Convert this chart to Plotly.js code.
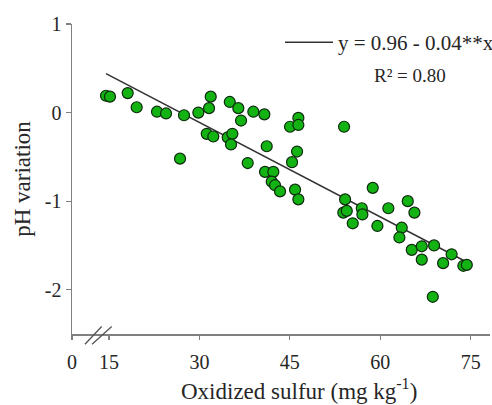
<!DOCTYPE html>
<html>
<head>
<meta charset="utf-8">
<script src="https://cdn.plot.ly/plotly-3.0.1.min.js"></script>
<style>
  html, body { margin: 0; padding: 0; background: #ffffff; }
  #chart { width: 492px; height: 405px; }
</style>
</head>
<body>
<div id="chart"></div>
<script>
// Oxidized sulfur (mg kg-1) for each sample
var sulfur = [14.50, 15.16, 18.10, 19.59, 22.96, 24.46, 27.44, 29.82, 31.59, 31.87,
              35.03, 36.45, 36.90, 38.94, 40.77, 31.21, 32.30, 34.69, 35.46, 35.24,
              26.78, 38.01, 41.16, 40.88, 42.26, 41.99, 42.54, 43.37, 46.41, 45.03,
              46.41, 53.99, 46.19, 45.36, 45.86, 46.41, 58.75, 54.16, 53.87, 54.44,
              55.43, 56.93, 57.03, 59.52, 61.34, 64.56, 65.66, 63.56, 63.17, 65.22,
              66.88, 66.88, 68.92, 70.42, 71.83, 73.78, 74.35, 68.71];
// pH variation for each sample
var phVar = [0.19, 0.18, 0.22, 0.06, 0.01, -0.01, -0.03, 0.00, 0.05, 0.18,
             0.12, 0.05, -0.09, 0.01, -0.02, -0.24, -0.27, -0.28, -0.24, -0.36,
             -0.52, -0.57, -0.38, -0.67, -0.67, -0.78, -0.82, -0.89, -0.06, -0.16,
             -0.14, -0.16, -0.44, -0.56, -0.87, -0.98, -0.85, -0.98, -1.13, -1.11,
             -1.25, -1.08, -1.15, -1.28, -1.08, -1.00, -1.13, -1.30, -1.41, -1.55,
             -1.51, -1.66, -1.50, -1.70, -1.60, -1.73, -1.72, -2.08];
// fitted line end points as drawn
var fitX = [14.5, 74.4];
var fitY = [0.44, -1.69];
var fitName = "y = 0.96 - 0.04**x";
var r2Label = "R\u00b2 = 0.80";
var xTitle = "Oxidized sulfur (mg kg<sup>-1</sup>)";
var yTitle = "pH variation";

// axis ticks (x axis is broken between 0 and 15)
var xTickVals = [8.86, 15, 30, 45, 60, 75];
var xTickText = ["0", "15", "30", "45", "60", "75"];
var yTickVals = [1, 0, -1, -2];
var yTickText = ["1", "0", "-1", "-2"];

var serif = "Liberation Serif, Times New Roman, serif";
var textCol = "#262626";

var traces = [
  {
    x: fitX, y: fitY, mode: "lines", type: "scatter", name: fitName,
    line: { color: "#333333", width: 1.6 }, showlegend: true, hoverinfo: "skip"
  },
  {
    x: sulfur, y: phVar, mode: "markers", type: "scatter", name: "data",
    marker: { size: 11, color: "#12b312", line: { color: "#0d2a0d", width: 1.2 } },
    showlegend: false
  }
];

var layout = {
  width: 492, height: 405,
  margin: { l: 72, r: 2, t: 24, b: 71, pad: 0, autoexpand: false },
  paper_bgcolor: "#ffffff", plot_bgcolor: "#ffffff",
  font: { family: serif, size: 20, color: textCol },
  showlegend: true,
  legend: {
    x: 0.4976, y: 0.94, xanchor: "left", yanchor: "middle",
    bgcolor: "rgba(0,0,0,0)", borderwidth: 0,
    font: { family: serif, size: 21, color: textCol },
    itemwidth: 48
  },
  xaxis: {
    range: [8.86, 78.2], showgrid: false, zeroline: false,
    showline: true, linecolor: "#808080", linewidth: 1.5,
    ticks: "outside", ticklen: 4, tickwidth: 1.2, tickcolor: "#808080",
    tickmode: "array", tickvals: xTickVals, ticktext: xTickText,
    ticklabelstandoff: 5,
    tickfont: { family: serif, size: 20, color: textCol },
    automargin: false
  },
  yaxis: {
    range: [-2.5, 1], showgrid: false, zeroline: false,
    showline: true, linecolor: "#808080", linewidth: 1.5,
    ticks: "outside", ticklen: 5, tickwidth: 1.2, tickcolor: "#808080",
    tickmode: "array", tickvals: yTickVals, ticktext: yTickText,
    tickfont: { family: serif, size: 20, color: textCol },
    title: { text: yTitle, standoff: 8,
             font: { family: serif, size: 23, color: textCol } },
    automargin: false
  },
  annotations: [
    { text: r2Label, xref: "paper", yref: "paper", x: 0.8086, y: 0.835,
      xanchor: "center", yanchor: "middle", showarrow: false,
      font: { family: serif, size: 19, color: textCol } },
    { text: xTitle, xref: "paper", yref: "paper", x: 0.543, y: -0.178,
      xanchor: "center", yanchor: "middle", showarrow: false,
      font: { family: serif, size: 23, color: textCol } }
  ],
  shapes: [
    { type: "line", xref: "paper", yref: "paper", x0: 0.031, y0: -0.033, x1: 0.071, y1: 0.024,
      line: { color: "#555555", width: 1.3 } },
    { type: "line", xref: "paper", yref: "paper", x0: 0.048, y0: -0.033, x1: 0.095, y1: 0.024,
      line: { color: "#555555", width: 1.3 } }
  ]
};

Plotly.newPlot("chart", traces, layout, { displayModeBar: false, staticPlot: true });
</script>
</body>
</html>
